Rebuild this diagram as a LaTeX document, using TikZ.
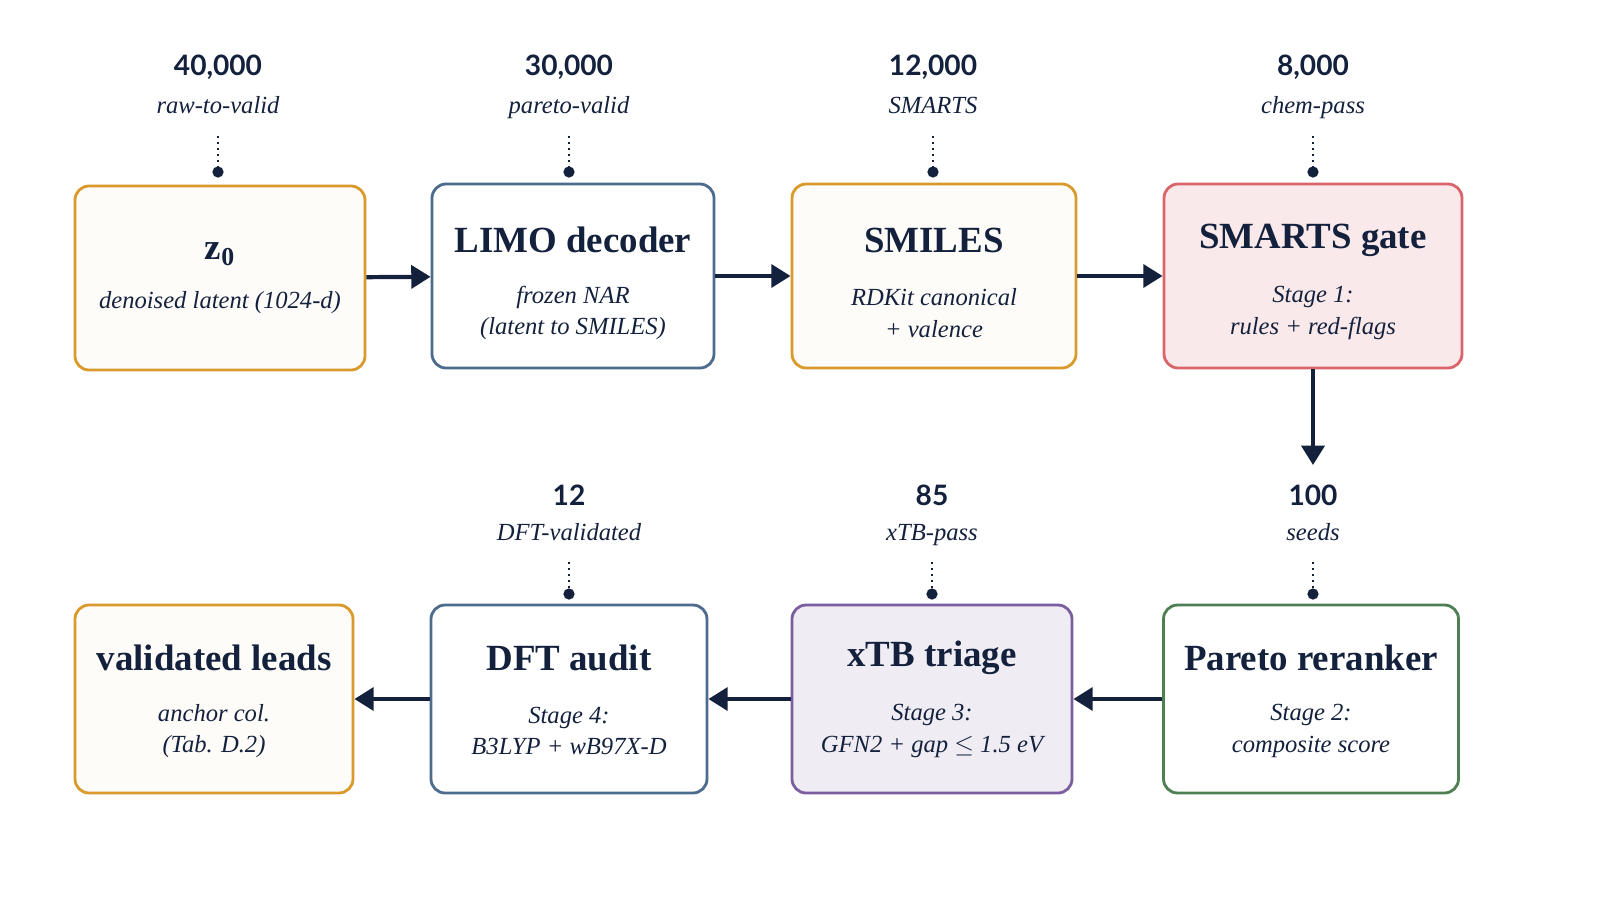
\documentclass[tikz,border=0pt]{standalone}
\usepackage{fontspec}
\setmainfont{Liberation Serif}
\newfontfamily\numfont{Lato}
\usetikzlibrary{arrows.meta, positioning}
\definecolor{ink}{HTML}{14213D}
\definecolor{cOrange}{HTML}{D99A2B}
\definecolor{cBlue}{HTML}{4D6B8C}
\definecolor{cRed}{HTML}{D9646A}
\definecolor{cPurple}{HTML}{7B5EA0}
\definecolor{cGreen}{HTML}{4E7F52}
\tikzset{
  box/.style={draw, rounded corners=8pt, line width=1.6pt, fill=white, align=center, text=ink, inner sep=0pt},
  ttl/.style={font=\fontsize{21}{24}\selectfont\bfseries, text=ink},
  sub/.style={font=\fontsize{14}{18}\selectfont\itshape, align=center, text=ink},
  cnt/.style={font=\numfont\fontsize{16}{19}\selectfont\bfseries, text=ink},
  lbl/.style={font=\fontsize{14}{17}\selectfont\itshape, text=ink},
  flow/.style={-{Triangle[length=11pt,width=13pt]}, line width=2.4pt, draw=ink},
  tick/.style={dotted, line width=1.4pt, draw=ink}
}
\begin{document}
\begin{tikzpicture}[x=0.02cm, y=-0.02cm]

\fill[white!97!black!2] (0,0) rectangle (1600,900);
\useasboundingbox (0,0) rectangle (1600,900);

% top row
\node[box, draw=cOrange, fill=cOrange!3, minimum width=290*0.02cm, minimum height=184*0.02cm] (z) at (220,278) {};
\node[ttl] at (220,254) {z\textsubscript{0}};
\node[sub] at (220,303) {denoised latent (1024-d)};

\node[box, draw=cBlue, minimum width=282*0.02cm, minimum height=184*0.02cm] (limo) at (573,276) {};
\node[ttl] at (573,240) {LIMO decoder};
\node[sub] at (573,313) {frozen NAR\\(latent to SMILES)};

\node[box, draw=cOrange, fill=cOrange!3, minimum width=284*0.02cm, minimum height=184*0.02cm] (smi) at (934,276) {};
\node[ttl] at (934,240) {SMILES};
\node[sub] at (934,313) {RDKit canonical\\+ valence};

\node[box, draw=cRed, fill=cRed!14, minimum width=298*0.02cm, minimum height=184*0.02cm] (gate) at (1313,276) {};
\node[ttl] at (1313,240) {SMARTS gate};
\node[sub] at (1313,313) {Stage 1:\\rules + red-flags};

% bottom row
\node[box, draw=cOrange, fill=cOrange!3, minimum width=278*0.02cm, minimum height=188*0.02cm] (lead) at (214,699) {};
\node[ttl] at (214,658) {validated leads};
\node[sub] at (214,731) {anchor col.\\(Tab. D.2)};

\node[box, draw=cBlue, minimum width=276*0.02cm, minimum height=188*0.02cm] (dft) at (569,699) {};
\node[ttl] at (569,658) {DFT audit};
\node[sub] at (569,731) {Stage 4:\\B3LYP + wB97X-D};

\node[box, draw=cPurple, fill=cPurple!12, minimum width=280*0.02cm, minimum height=188*0.02cm] (xtb) at (932,699) {};
\node[ttl] at (932,658) {xTB triage};
\node[sub] at (932,731) {Stage 3:\\GFN2 + gap $\leq$ 1.5 eV};

\node[box, draw=cGreen, minimum width=295*0.02cm, minimum height=188*0.02cm] (pareto) at (1311,699) {};
\node[ttl] at (1311,658) {Pareto reranker};
\node[sub] at (1311,731) {Stage 2:\\composite score};

% flow arrows
\draw[flow] (z) -- (limo);
\draw[flow] (limo) -- (smi);
\draw[flow] (smi) -- (gate);
\draw[flow] (gate) -- (1313,465);
\draw[flow] (pareto) -- (xtb);
\draw[flow] (xtb) -- (dft);
\draw[flow] (dft) -- (lead);

% counts
\foreach \x/\n/\t/\c in {218/40{,}000/raw-to-valid/z, 569/30{,}000/pareto-valid/limo, 933/12{,}000/SMARTS/smi, 1313/8{,}000/chem-pass/gate}{
  \node[cnt] (n\c) at (\x,67) {\n};
  \node[lbl, anchor=base] (l\c) at (\x,113) {\t};
  \draw[tick] (\x,136) -- (\x,168);
  \fill[ink] (\x,172) circle (3.2pt);
}
\foreach \x/\n/\t/\c in {569/12/DFT-validated/dft, 932/85/xTB-pass/xtb, 1313/100/seeds/pareto}{
  \node[cnt] (n\c) at (\x,495) {\n};
  \node[lbl, anchor=base] (l\c) at (\x,540) {\t};
  \draw[tick] (\x,562) -- (\x,590);
  \fill[ink] (\x,594) circle (3.2pt);
}

\end{tikzpicture}
\end{document}
